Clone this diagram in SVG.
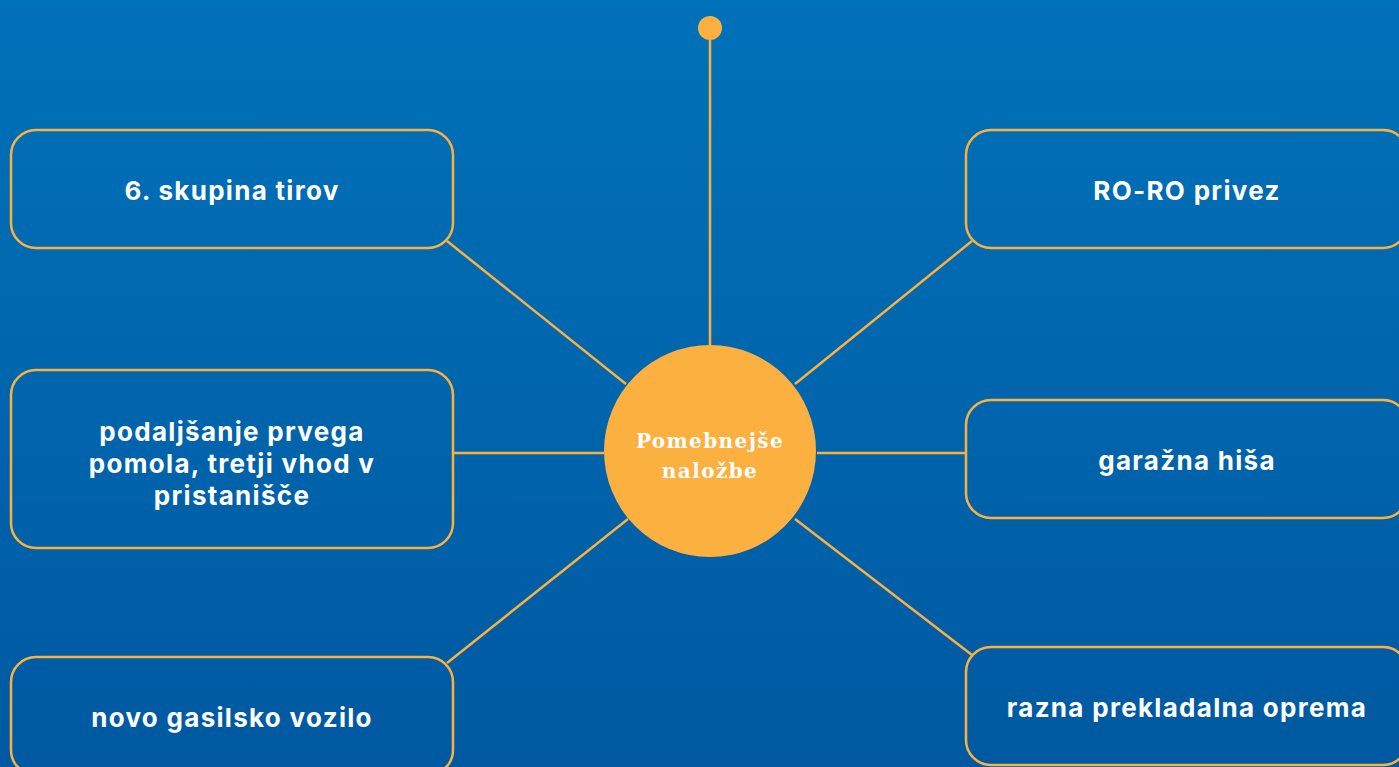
<svg xmlns="http://www.w3.org/2000/svg" width="1399" height="767" viewBox="0 0 1399 767">
<defs>
<linearGradient id="bg" x1="0" y1="0" x2="0" y2="1">
<stop offset="0" stop-color="#0072B9"/>
<stop offset="1" stop-color="#0059A1"/>
</linearGradient>
<style>
.box{fill:none;stroke:#FBB040;stroke-width:2.5}
.ln{stroke:#FBB040;stroke-width:2.5;fill:none}
.t{font-family:Inter,"Open Sans","Liberation Sans",sans-serif;font-weight:700;font-size:26px;fill:#fff;text-anchor:middle;letter-spacing:1.3px}
.c{font-family:"DejaVu Serif","Liberation Serif",serif;font-weight:700;font-size:20px;fill:#fff;text-anchor:middle;letter-spacing:1.4px}
</style>
</defs>
<rect width="1399" height="767" fill="url(#bg)"/>
<g id="connectors">
<line class="ln" x1="710" y1="40" x2="710" y2="346"/>
<line class="ln" x1="626" y1="384" x2="447" y2="241"/>
<line class="ln" x1="795" y1="384" x2="972" y2="241"/>
<line class="ln" x1="453" y1="453" x2="604" y2="453"/>
<line class="ln" x1="817" y1="453" x2="966" y2="453"/>
<line class="ln" x1="628" y1="519" x2="447" y2="663"/>
<line class="ln" x1="795" y1="519" x2="972" y2="655"/>
</g>
<g id="top-dot"><circle cx="710" cy="28" r="12" fill="#FBB040"/></g>
<g id="center">
<circle cx="710" cy="451" r="106" fill="#FBB040"/>
<text class="c" x="710" y="448">Pomebnejše</text>
<text class="c" x="710" y="478">naložbe</text>
</g>
<g id="n1">
<rect class="box" x="11" y="130" width="442" height="118" rx="25"/>
<text class="t" x="232" y="200">6. skupina tirov</text>
</g>
<g id="n2">
<rect class="box" x="11" y="370" width="442" height="178" rx="25"/>
<text class="t" x="232" y="441">podaljšanje prvega</text>
<text class="t" x="232" y="473">pomola, tretji vhod v</text>
<text class="t" x="232" y="505">pristanišče</text>
</g>
<g id="n3">
<rect class="box" x="11" y="657" width="442" height="118" rx="25"/>
<text class="t" x="232" y="727">novo gasilsko vozilo</text>
</g>
<g id="n4">
<rect class="box" x="966" y="130" width="442" height="118" rx="25"/>
<text class="t" x="1187" y="200">RO-RO privez</text>
</g>
<g id="n5">
<rect class="box" x="966" y="400" width="442" height="118" rx="25"/>
<text class="t" x="1187" y="470">garažna hiša</text>
</g>
<g id="n6">
<rect class="box" x="966" y="647" width="442" height="118" rx="25"/>
<text class="t" x="1187" y="717">razna prekladalna oprema</text>
</g>
</svg>
